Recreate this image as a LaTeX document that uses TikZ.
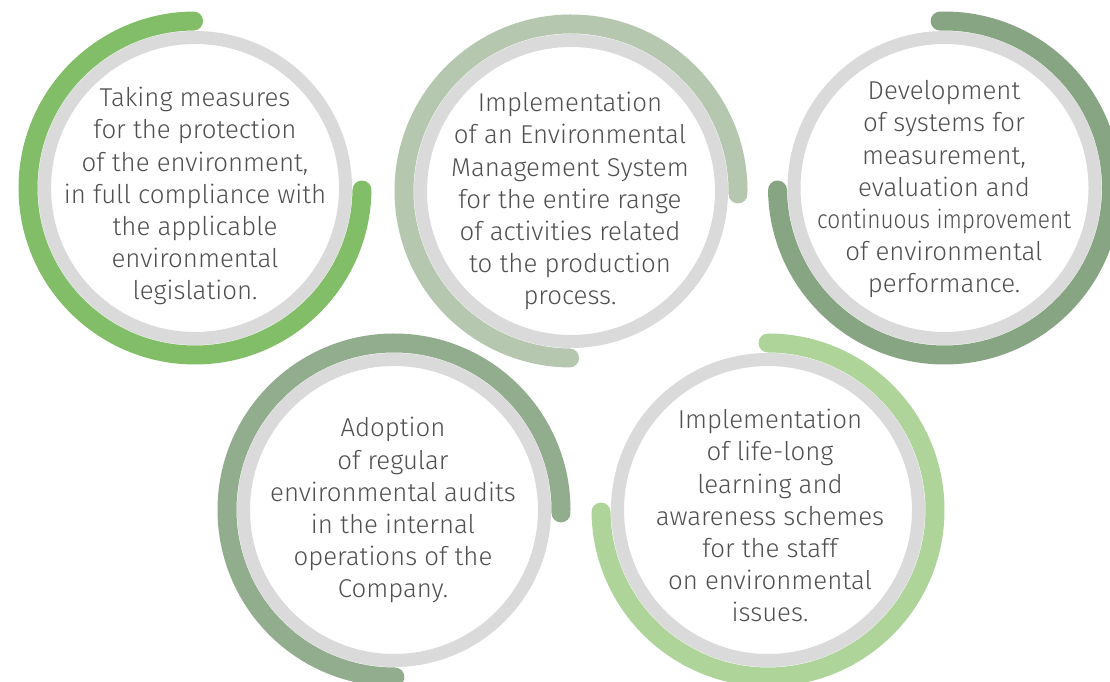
\documentclass[tikz,border=0pt]{standalone}
\usepackage{fontspec}
\setmainfont{Fira Sans Light}
\usepackage{graphicx}
\definecolor{ringgray}{HTML}{DADADA}
\definecolor{txtgray}{HTML}{505050}
\definecolor{gA}{HTML}{82BE68}
\definecolor{gB}{HTML}{B5C7AE}
\definecolor{gC}{HTML}{87A583}
\definecolor{gD}{HTML}{92AD8E}
\definecolor{gE}{HTML}{AED49A}
\begin{document}
\begin{tikzpicture}[x=1pt,y=1pt,
  ring/.style={draw=ringgray, line width=13pt},
  band/.style={line width=19pt, line cap=round},
  txt/.style={text=txtgray, align=center, anchor=base, inner sep=0pt,
    font=\fontsize{25.8}{32.2}\selectfont}]
\useasboundingbox (0,0) rectangle (1110,682);
\clip (0,0) rectangle (1110,682);
\fill[white] (0,0) rectangle (1110,682);
\coordinate (c1) at (195,494);
\coordinate (c2) at (571,491);
\coordinate (c3) at (944.5,494);
\coordinate (c4) at (394,172);
\coordinate (c5) at (768,172);
% rings
\draw[ring] (c1) circle[radius=150.5];
\draw[ring] (c2) circle[radius=150.5];
\draw[ring] (c3) circle[radius=150.5];
\draw[ring] (c4) circle[radius=150.5];
\draw[ring] (c5) circle[radius=150.5];
% arcs
\draw[band, gA] (c1) ++(90.5:167) arc[start angle=90.5, end angle=359.3, radius=167];
\draw[band, gB] (c2) ++(-1:167) arc[start angle=-1, end angle=269.5, radius=167];
\draw[band, gC] (c3) ++(180.7:167) arc[start angle=180.7, end angle=451.5, radius=167];
\draw[band, gD] (c4) ++(-1:167) arc[start angle=-1, end angle=270.3, radius=167];
\draw[band, gE] (c5) ++(180.7:167) arc[start angle=180.7, end angle=450, radius=167];
% texts (anchor = baseline of last line)
\node[txt] (t1) at (195,382) {Taking measures\\for the protection\\of the environment,\\in full compliance with\\the applicable\\environmental\\legislation.};
\node[txt] (t2) at (570,377) {Implementation\\of an Environmental\\Management System\\for the entire range\\of activities related\\to the production\\process.};
\node[txt] (t3) at (944,389) {Development\\of systems for\\measurement,\\evaluation and\\\resizebox{254pt}{\height}{continuous improvement}\\of environmental\\performance.};
\node[txt] (t4) at (393,84) {Adoption\\of regular\\environmental audits\\in the internal\\operations of the\\Company.};
\node[txt] (t5) at (770,60) {Implementation\\of life-long\\learning and\\awareness schemes\\for the staff\\on environmental\\issues.};
\end{tikzpicture}
\end{document}
